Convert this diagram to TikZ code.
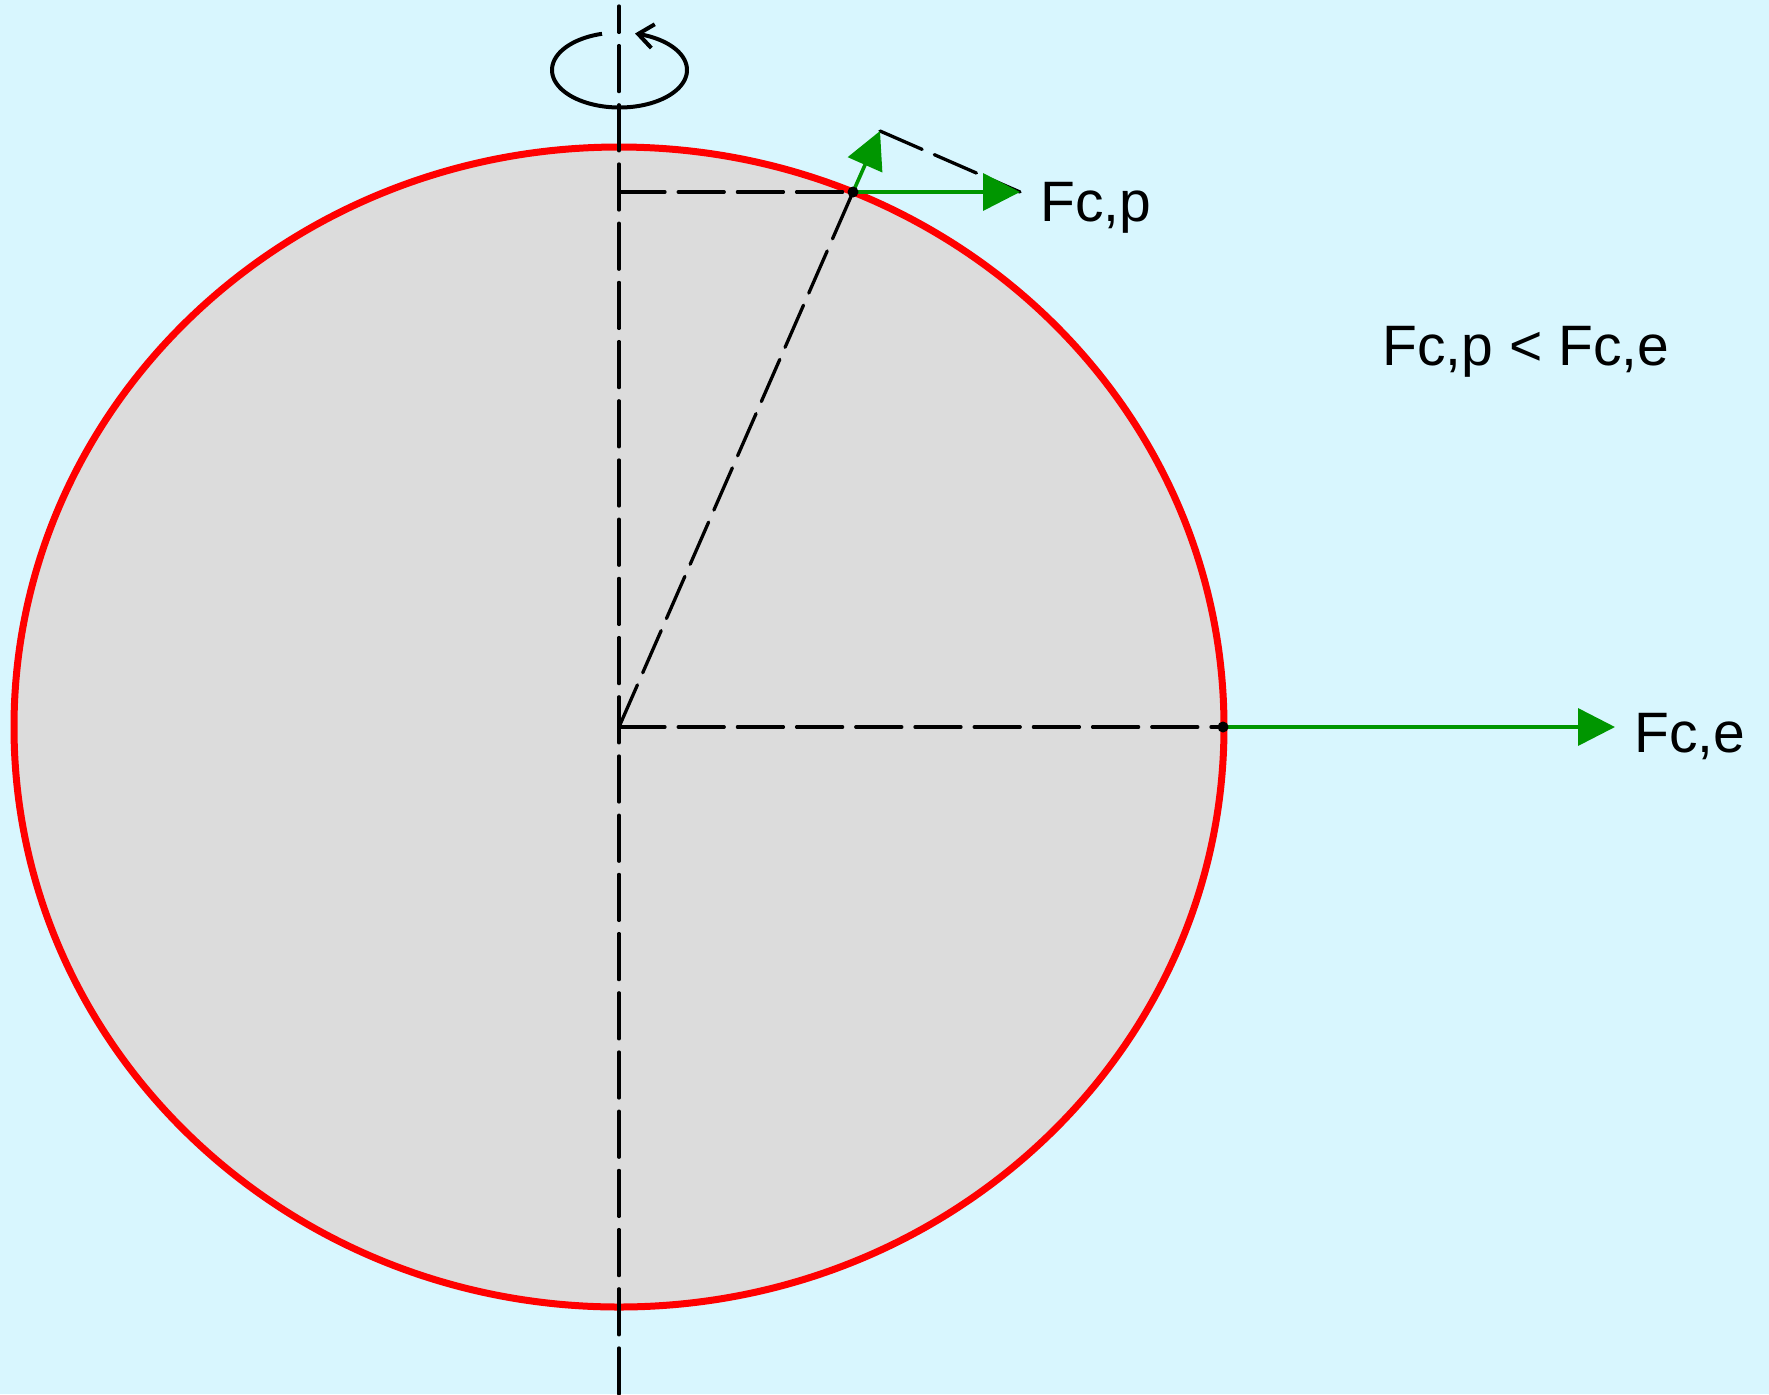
\documentclass[tikz,border=0pt]{standalone}
\usepackage{fontspec}
\setmainfont{Liberation Sans}
\usetikzlibrary{arrows.meta}
\definecolor{bg}{RGB}{216,246,254}
\definecolor{earth}{RGB}{220,220,220}
\definecolor{fgreen}{RGB}{0,150,0}
\begin{document}
\begin{tikzpicture}[x=0.5pt,y=-0.5pt,
  dashline/.style={black, line width=1.65pt, line cap=round, dash pattern=on 23pt off 6.6pt},
  axisline/.style={black, line width=1.65pt, line cap=round, dash pattern=on 23pt off 6.6pt},
  force/.style={fgreen, line width=1.8pt, -{Triangle[length=18.5pt,width=18.5pt]}},
  lbl/.style={font=\fontsize{28.5}{34}\selectfont, inner sep=0pt, anchor=base west},
  dot/.style={circle, fill=black, inner sep=0pt, minimum size=5.5pt}]
\fill[bg] (0,0) rectangle (1769,1394);
\useasboundingbox (0,0) rectangle (1769,1394);
\coordinate (C) at (619,727);
\coordinate (P) at (853,192);
\coordinate (Pa) at (619,192);
\coordinate (Fp) at (1020,192);
\coordinate (Pr) at (880,131);
\coordinate (E) at (1223,727);
\coordinate (Fe) at (1615,727);
\coordinate (Atop) at (619,6);
\coordinate (Abot) at (619,1394);
% earth
\fill[earth] (C) ellipse [x radius=605, y radius=580];
\draw[red, line width=3.5pt] (C) ellipse [x radius=605, y radius=580];
% axis
\draw[axisline] (Abot) -- (Atop);
% rotation symbol
\draw[black, line width=2pt, -{Straight Barb[length=7.5pt,width=12pt]}]
  plot[domain=105:436.7, samples=120] ({619.5+67.5*cos(\x)}, {70-37.5*sin(\x)});
% construction lines
\draw[dashline] (Pa) -- (P);
\draw[dashline] (C) -- (P);
\draw[dashline] (C) -- (E);
\draw[dashline] (Pr) -- (Fp);
% forces
\draw[force] (P) -- (Fp);
\draw[force] (P) -- (Pr);
\draw[force] (E) -- (Fe);
\node[dot] (dp) at (P) {};
\node[dot] (de) at (E) {};
% labels
\node[lbl] (lp) at (1040,221) {Fc,p};
\node[lbl] (le) at (1634,752) {Fc,e};
\node[lbl] (lc) at (1382,365) {Fc,p < Fc,e};
\end{tikzpicture}
\end{document}
